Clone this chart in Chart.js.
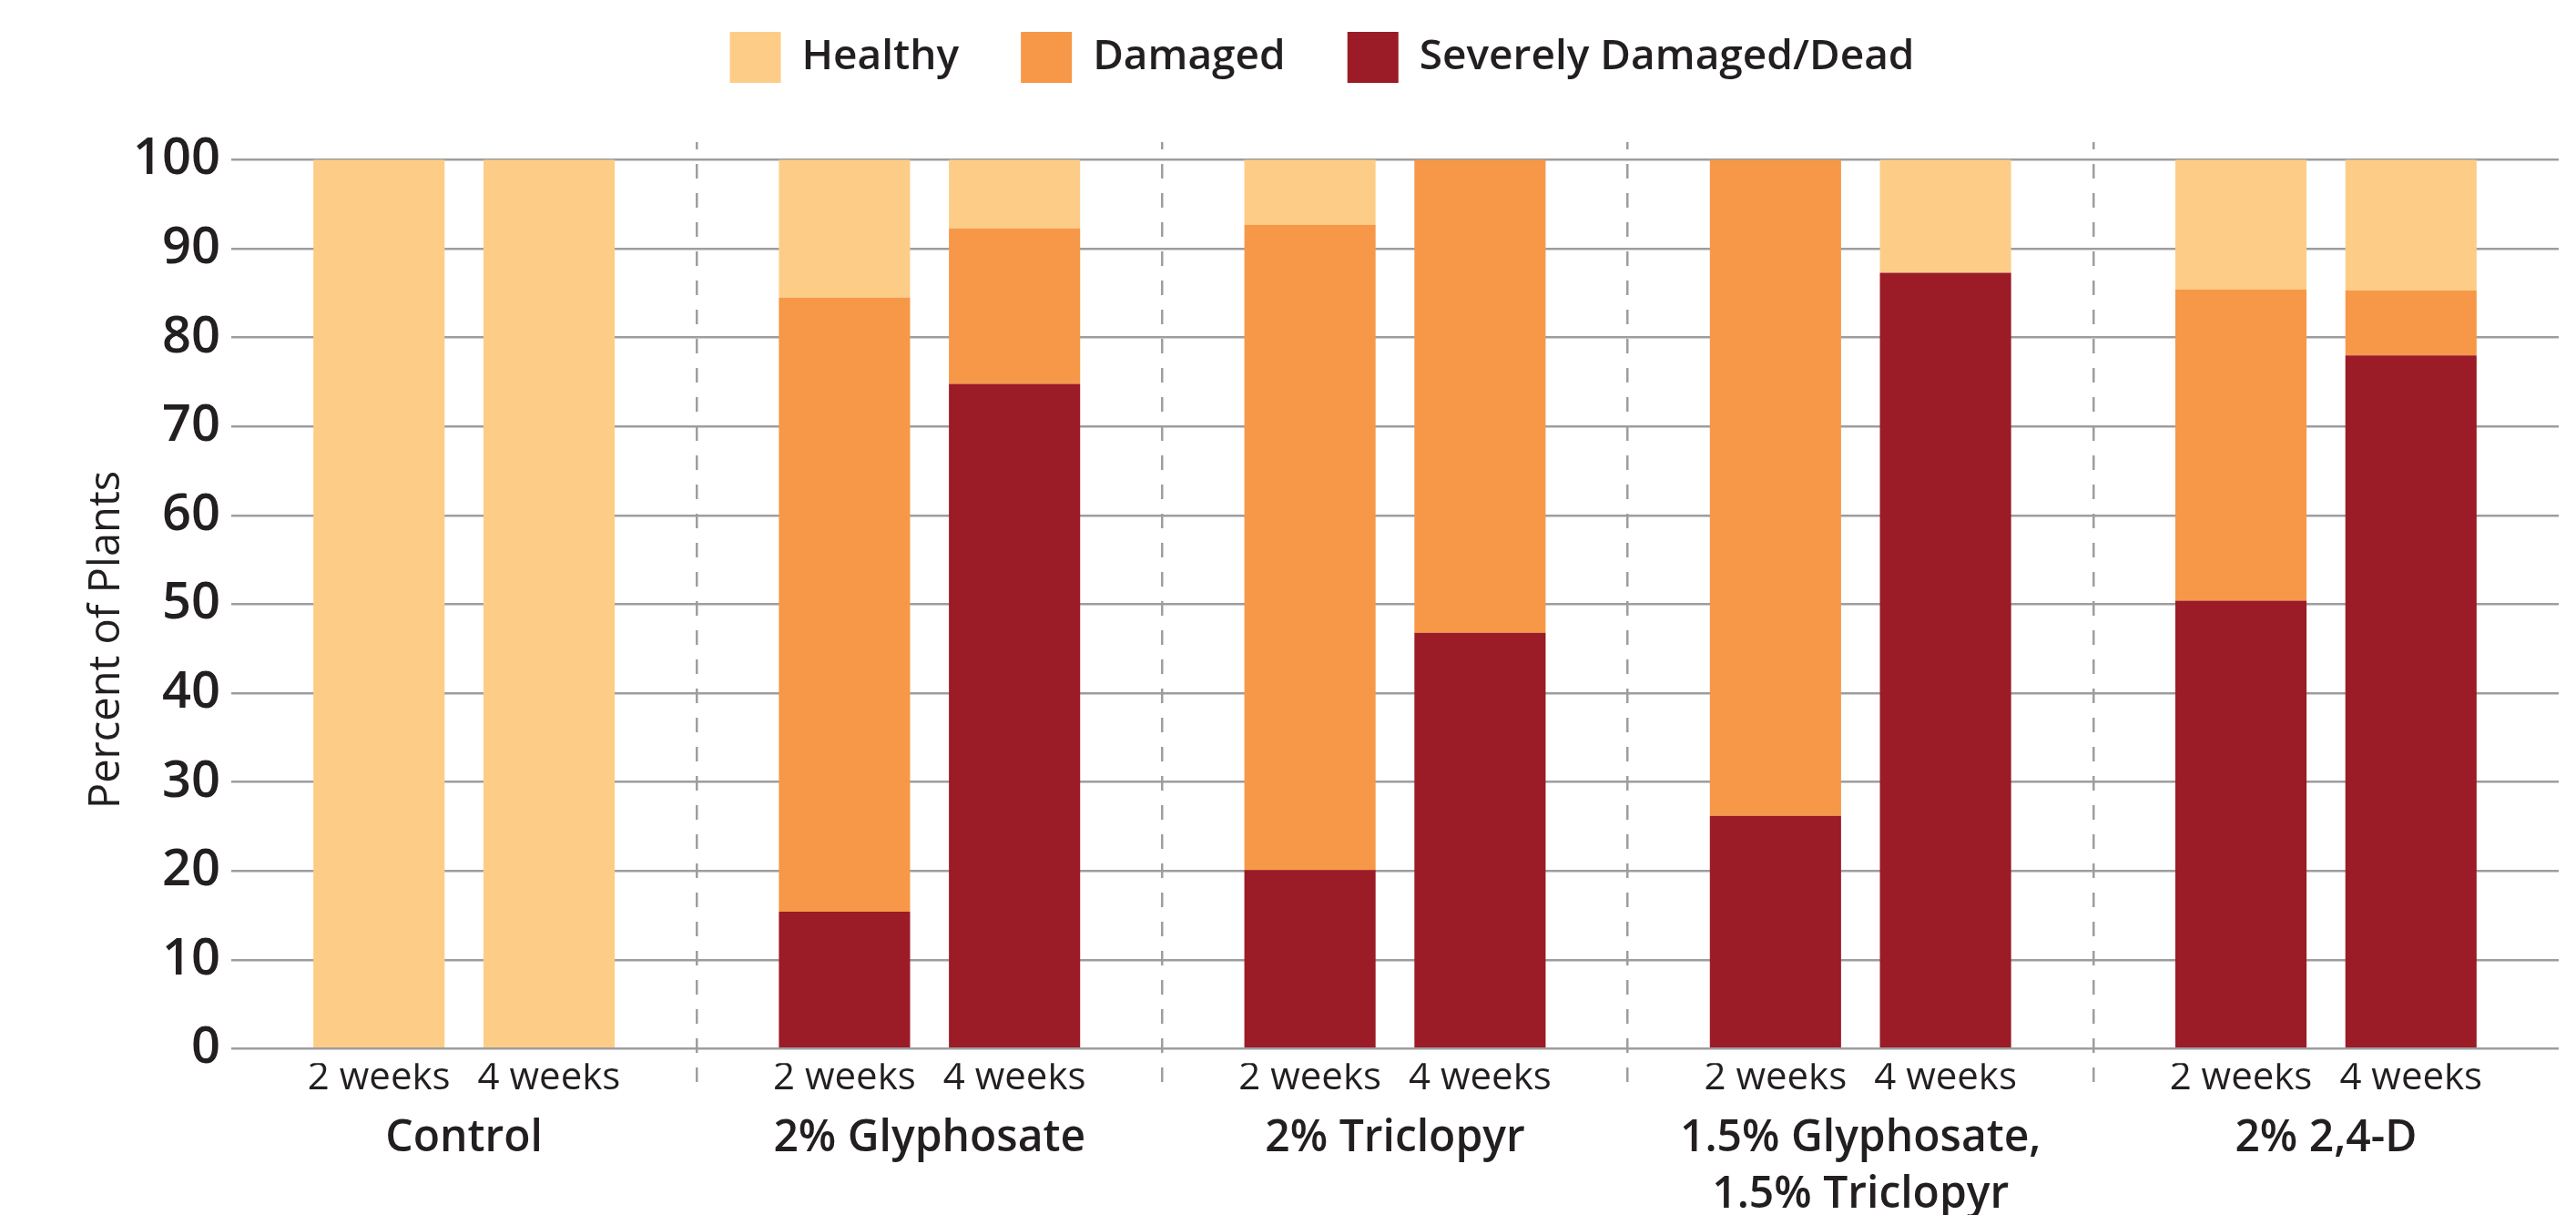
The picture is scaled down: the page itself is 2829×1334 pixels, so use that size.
<!DOCTYPE html>
<html><head><meta charset="utf-8">
<script src="https://cdn.jsdelivr.net/npm/chart.js@4.4.0/dist/chart.umd.min.js"></script>
<style>
html,body{margin:0;padding:0;background:#fff;overflow:hidden;width:2829px;height:1334px;}
#wrap{position:absolute;left:0;top:-33px;width:2829px;height:1461px;}
canvas{display:block;}
</style></head><body>
<div id="wrap"><canvas id="c" width="2829" height="1461"></canvas></div>
<script>
// ---- data ----
const categories = ["Control", "2% Glyphosate", "2% Triclopyr", ["1.5% Glyphosate,", "1.5% Triclopyr"], "2% 2,4-D"];
const timeLabels = ["2 weeks", "4 weeks"];
const seriesNames = ["Healthy", "Damaged", "Severely Damaged/Dead"];
const healthy2wk = [100, 15.5, 7.3, 0, 14.6];
const damaged2wk = [0, 69.1, 72.6, 73.8, 35.0];
const severe2wk  = [0, 15.4, 20.1, 26.2, 50.4];
const healthy4wk = [100, 7.7, 0, 12.7, 14.7];
const damaged4wk = [0, 17.5, 53.2, 0, 7.3];
const severe4wk  = [0, 74.8, 46.8, 87.3, 78.0];
const yTicks = [0, 10, 20, 30, 40, 50, 60, 70, 80, 90, 100];
const yTitle = 'Percent of Plants';

// ---- style ----
const COL_HEALTHY = '#FDCD87', COL_DAMAGED = '#F69847', COL_SEVERE = '#9B1B26';
const GRID = '#9d9d9f', TEXT = '#231f20';
const CAT_PCT = 0.7306, BAR_PCT = 0.7717;
const FONT = '"Open Sans", "Noto Sans", sans-serif';
Chart.defaults.color = TEXT;
Chart.defaults.font.family = FONT;

const weekOffset = CAT_PCT / 4;
const weekTickValues = categories.flatMap((_, i) => [i - weekOffset, i + weekOffset]);

function ds(label, data, color, stack) {
  return { label, data, backgroundColor: color, borderWidth: 0, stack,
           categoryPercentage: CAT_PCT, barPercentage: BAR_PCT };
}

new Chart(document.getElementById('c'), {
  type: 'bar',
  data: {
    labels: categories,
    datasets: [
      ds(seriesNames[2], severe2wk, COL_SEVERE, 'w2'),
      ds(seriesNames[1], damaged2wk, COL_DAMAGED, 'w2'),
      ds(seriesNames[0], healthy2wk, COL_HEALTHY, 'w2'),
      ds(seriesNames[2], severe4wk, COL_SEVERE, 'w4'),
      ds(seriesNames[1], damaged4wk, COL_DAMAGED, 'w4'),
      ds(seriesNames[0], healthy4wk, COL_HEALTHY, 'w4')
    ]
  },
  options: {
    responsive: false,
    animation: false,
    layout: { padding: { left: 94, right: 19, top: 0, bottom: 0 } },
    plugins: {
      tooltip: { enabled: false },
      title: {
        display: true, text: '', weight: 500, position: 'top',
        font: { size: 10, lineHeight: 1 }, padding: { top: 0, bottom: 45 }
      },
      legend: {
        position: 'top',
        labels: {
          boxWidth: 56, boxHeight: 56, padding: 68,
          font: { size: 46, weight: '600', family: FONT },
          color: TEXT,
          filter: (item) => item.datasetIndex < 3,
          sort: (a, b) => b.datasetIndex - a.datasetIndex
        }
      }
    },
    scales: {
      x: {
        type: 'category',
        stacked: true,
        position: 'bottom',
        weight: 1,
        offset: true,
        border: { display: false, dash: [16, 16], dashOffset: 8 },
        grid: {
          offset: true,
          drawTicks: false,
          color: (ctx) => (ctx.type !== 'tick' || ctx.index === 0) ? 'rgba(0,0,0,0)' : GRID,
          lineWidth: 2.5
        },
        ticks: {
          font: { size: 48, weight: '600', family: FONT, lineHeight: 1.29 },
          color: TEXT, padding: 52, maxRotation: 0, autoSkip: false
        }
      },
      xw: {
        type: 'linear',
        position: 'bottom',
        weight: 0,
        min: -0.5, max: categories.length - 0.5,
        offset: false,
        border: { display: false },
        grid: { display: false, drawTicks: false },
        afterBuildTicks: (scale) => { scale.ticks = weekTickValues.map(v => ({ value: v })); },
        ticks: {
          font: { size: 42, weight: '500', family: FONT, lineHeight: 1.2 },
          color: TEXT, padding: -41.6, maxRotation: 0, autoSkip: false,
          callback: (value, index) => timeLabels[index % 2]
        }
      },
      y: {
        stacked: true,
        min: -5, max: 102,
        border: { display: false },
        afterBuildTicks: (scale) => { scale.ticks = yTicks.map(v => ({ value: v })); },
        afterFit: (scale) => { scale.width = 160; },
        grid: { color: GRID, lineWidth: 2.5, drawTicks: false },
        ticks: {
          font: { size: 56, weight: '600', family: FONT },
          color: TEXT, padding: 12
        },
        title: {
          display: true, text: yTitle + '    ',
          font: { size: 47, weight: '400', family: FONT, lineHeight: 1 },
          color: TEXT, padding: { top: 0, bottom: 0 }
        }
      }
    }
  }
});
</script>
</body></html>
